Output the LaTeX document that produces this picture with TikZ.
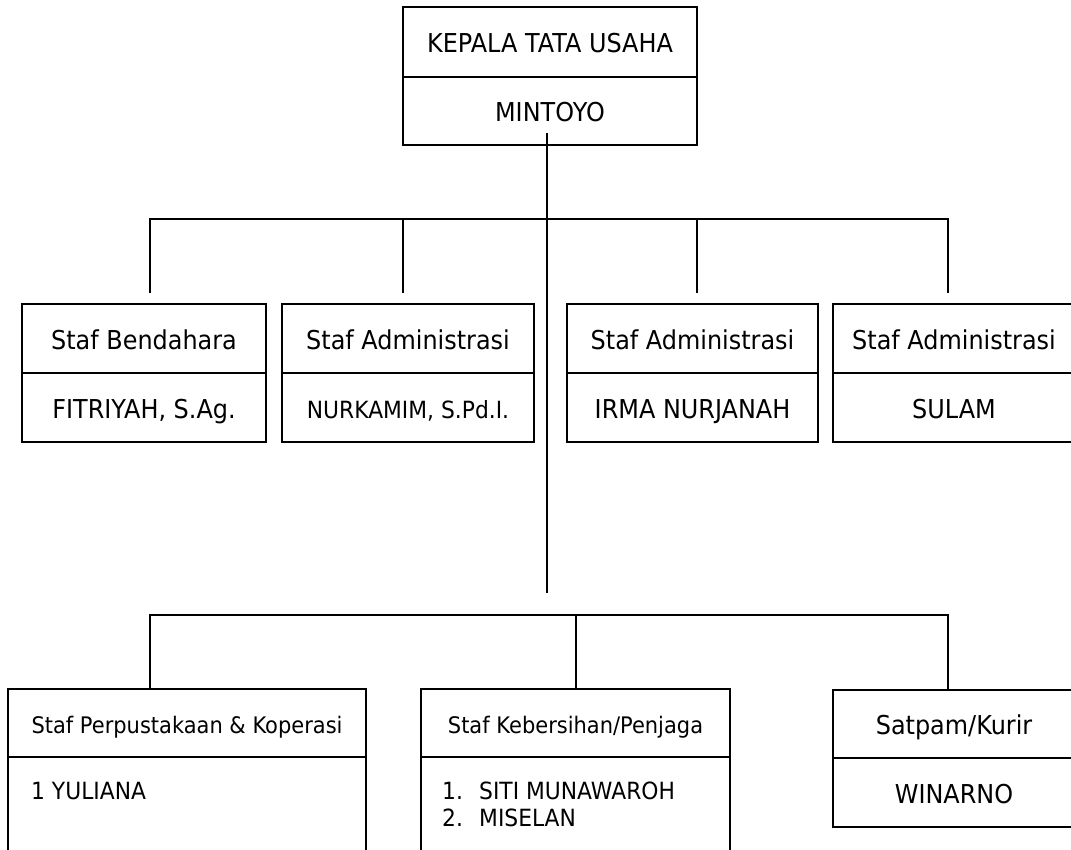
\documentclass[tikz,border=0pt]{standalone}
\usepackage{fontspec}
\setmainfont[FakeStretch=0.92]{DejaVu Sans}
\usetikzlibrary{calc}
\begin{document}
\begin{tikzpicture}[x=1pt,y=-1pt,
  cell/.style={draw, line width=1.9pt, rectangle, inner sep=0pt, text height=21pt, text depth=0pt, font=\fontsize{26}{30}\selectfont},
  smallcell/.style={cell, font=\fontsize{23.7}{28}\selectfont},
  titlecell/.style={cell, font=\fontsize{22.8}{27}\selectfont},
  conn/.style={line width=1.8pt},
  listtext/.style={anchor=base west, inner sep=0pt, font=\fontsize{23.7}{28}\selectfont}]
\useasboundingbox (0,0) rectangle (1071,850);
% top box
\node[cell, minimum width=294pt, minimum height=70pt] (t1) at (550,42) {KEPALA TATA USAHA};
\node[cell, minimum width=294pt, minimum height=68pt] (t2) at (550,111) {MINTOYO};
% middle boxes
\node[cell, minimum width=244pt, minimum height=69pt] (b1) at (144,338.5) {Staf Bendahara};
\node[cell, minimum width=244pt, minimum height=69pt] (b1n) at (144,407.5) {FITRIYAH, S.Ag.};
\node[cell, minimum width=252pt, minimum height=69pt] (b2) at (408,338.5) {Staf Administrasi};
\node[smallcell, minimum width=252pt, minimum height=69pt] (b2n) at (408,407.5) {NURKAMIM, S.Pd.I.};
\node[cell, minimum width=251pt, minimum height=69pt] (b3) at (692.5,338.5) {Staf Administrasi};
\node[cell, minimum width=251pt, minimum height=69pt] (b3n) at (692.5,407.5) {IRMA NURJANAH};
\node[cell, minimum width=242pt, minimum height=69pt] (b4) at (954,338.5) {Staf Administrasi};
\node[cell, minimum width=242pt, minimum height=69pt] (b4n) at (954,407.5) {SULAM};
% lower boxes
\node[titlecell, minimum width=358pt, minimum height=68pt] (la) at (187,723) {Staf Perpustakaan \& Koperasi};
\node[titlecell, minimum width=358pt, minimum height=113pt] (la2) at (187,813.5) {};
\node[titlecell, minimum width=309pt, minimum height=68pt] (lb) at (575.5,723) {Staf Kebersihan/Penjaga};
\node[titlecell, minimum width=309pt, minimum height=113pt] (lb2) at (575.5,813.5) {};
\node[cell, minimum width=242pt, minimum height=68pt] (lc) at (954,724) {Satpam/Kurir};
\node[cell, minimum width=242pt, minimum height=69pt] (lc2) at (954,792.5) {WINARNO};
\node[listtext] (nA) at (31,799) {1 YULIANA};
\node[listtext] (nB1) at (442,799) {\makebox[37pt][l]{1.}SITI MUNAWAROH};
\node[listtext] (nB2) at (442,826) {\makebox[37pt][l]{2.}MISELAN};
% connectors
\coordinate (busU) at (0,219);
\coordinate (busL) at (0,615);
\coordinate (tstem) at (547,133);
\coordinate (tend) at (547,593);
\path (b1.north) ++(6,-10) coordinate (u1);
\path (b2.north) ++(-5,-10) coordinate (u2);
\path (b3.north) ++(4.5,-10) coordinate (u3);
\path (b4.north) ++(-6,-10) coordinate (u4);
\draw[conn] (tstem) -- (tend);
\draw[conn] (u1) |- (u4 |- busU) -- (u4);
\draw[conn] (u2) -- (u2 |- busU);
\draw[conn] (u3) -- (u3 |- busU);
\draw[conn] ([xshift=-37pt]la.north) |- ([xshift=-6pt]lc.north |- busL) -- ([xshift=-6pt]lc.north);
\draw[conn] ([xshift=0.5pt]lb.north) -- ([xshift=0.5pt]lb.north |- busL);
\end{tikzpicture}
\end{document}
